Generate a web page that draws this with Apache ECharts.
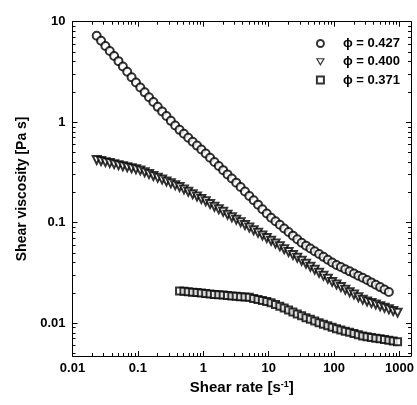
<!DOCTYPE html>
<html><head><meta charset="utf-8">
<script src="https://cdn.jsdelivr.net/npm/echarts@6/dist/echarts.min.js"></script>
<style>html,body{margin:0;padding:0;background:#fff}#c{width:417px;height:405px}</style>
</head><body><div id="c"></div>
<script>
// Shear rate values [1/s]
const shearRate = [0.02344,0.02734,0.03186,0.03715,0.04331,0.05050,0.05888,0.06866,0.08004,0.09333,
  0.1088,0.1269,0.1479,0.1724,0.2010,0.2344,0.2733,0.3187,0.3715,0.4332,
  0.5050,0.5888,0.6866,0.8005,0.9333,1.088,1.269,1.479,1.724,2.011,
  2.344,2.733,3.187,3.715,4.332,5.050,5.888,6.866,8.005,9.333,
  10.88,12.69,14.79,17.24,20.11,23.44,27.33,31.87,37.15,43.32,
  50.50,58.88,68.66,80.05,93.33,108.8,126.9,147.9,172.4,201.1,
  234.4,273.3,318.7,371.5,433.2,505.0,588.8,686.6,800.5,933.3];
// phi = 0.427 (circles), starts at shearRate[0]
const visc427 = [7.24,6.45,5.74,5.11,4.55,4.05,3.58,3.17,2.80,2.48,
  2.21,1.98,1.77,1.59,1.42,1.28,1.15,1.03,0.925,0.838,
  0.766,0.700,0.639,0.584,0.534,0.487,0.443,0.402,0.366,0.333,
  0.302,0.275,0.250,0.226,0.204,0.184,0.167,0.151,0.136,0.123,
  0.112,0.103,0.0951,0.0875,0.0806,0.0742,0.0683,0.0629,0.0590,0.0553,
  0.0518,0.0486,0.0456,0.0427,0.0400,0.0379,0.0361,0.0343,0.0327,0.0311,
  0.0296,0.0282,0.0268,0.0254,0.0241,0.0228,0.0216,0.0204];
// phi = 0.400 (triangles), starts at shearRate[0]
const visc400 = [0.420,0.410,0.400,0.391,0.382,0.373,0.364,0.356,0.348,0.340,
  0.331,0.317,0.304,0.291,0.279,0.268,0.257,0.246,0.236,0.226,
  0.214,0.203,0.192,0.182,0.172,0.163,0.153,0.144,0.136,0.128,
  0.120,0.113,0.107,0.101,0.0947,0.0892,0.0840,0.0791,0.0746,0.0702,
  0.0660,0.0619,0.0580,0.0543,0.0509,0.0477,0.0447,0.0417,0.0389,0.0363,
  0.0339,0.0317,0.0295,0.0276,0.0257,0.0242,0.0228,0.0215,0.0203,0.0192,
  0.0181,0.0171,0.0164,0.0158,0.0153,0.0147,0.0142,0.0137,0.0132,0.0127];
// phi = 0.371 (squares), starts at shearRate[19]
const visc371Start = 19;
const visc371 = [0.0209,0.0207,0.0205,0.0203,0.0201,0.0199,0.0197,0.0195,0.0193,0.0191,
  0.0190,0.0188,0.0186,0.0185,0.0183,0.0182,0.0181,0.0176,0.0172,0.0168,
  0.0164,0.0159,0.0153,0.0147,0.0141,0.0135,0.0129,0.0123,0.0118,0.0113,
  0.0109,0.0105,0.0101,0.00973,0.00939,0.00906,0.00878,0.00854,0.00831,0.00808,
  0.00786,0.00764,0.00743,0.00731,0.00719,0.00708,0.00697,0.00686,0.00675,0.00664,
  0.00653];
const seriesNames = ['\u03D5 = 0.427','\u03D5 = 0.400','\u03D5 = 0.371'];
const xMajorTicks = [0.01,0.1,1,10,100,1000];
const xMinorTicks = [0.02,0.03,0.04,0.05,0.06,0.07,0.08,0.09,0.2,0.3,0.4,0.5,0.6,0.7,0.8,0.9,
  2,3,4,5,6,7,8,9,20,30,40,50,60,70,80,90,200,300,400,500,600,700,800,900];
const yMajorTicks = [0.01,0.1,1,10];
const yMinorTicks = [0.005,0.006,0.007,0.008,0.009,0.02,0.03,0.04,0.05,0.06,0.07,0.08,0.09,
  0.2,0.3,0.4,0.5,0.6,0.7,0.8,0.9,2,3,4,5,6,7,8,9];
const xTitle = 'Shear rate [s{sup|-1}]';
const yTitle = 'Shear viscosity [Pa s]';

const FONT = '"Liberation Sans", Arial, sans-serif';
const X_MIN = 0.01, X_MAX = 1500, Y_MIN = 0.0047, Y_MAX = 10;
const DOWN_TRIANGLE = 'path://M0,0L10,0L5,8.66Z';
function fmt(v){ const e = Math.round(Math.log10(v)); return e < 0 ? Math.pow(10,e).toFixed(-e) : String(Math.round(Math.pow(10,e))); }

function mkX(pos, major, labels, extra){
  return Object.assign({
    type:'log', logBase:10, min:X_MIN, max:X_MAX, position:pos,
    axisLine:{show:major, lineStyle:{color:'#000', width:1}},
    axisTick:{show:true, inside:true, length: major?5:3, customValues: major?xMajorTicks:xMinorTicks, lineStyle:{color:'#000', width:1}},
    axisLabel:{show:labels, customValues:xMajorTicks, formatter:fmt, color:'#000', fontFamily:FONT, fontWeight:'bold', fontSize:13, margin:6},
    splitLine:{show:false}, minorTick:{show:false}
  }, extra||{});
}
function mkY(pos, major, labels, extra){
  return Object.assign({
    type:'log', logBase:10, min:Y_MIN, max:Y_MAX, position:pos,
    axisLine:{show:major, lineStyle:{color:'#000', width:1}},
    axisTick:{show:true, inside:true, length: major?5:3, customValues: major?yMajorTicks:yMinorTicks, lineStyle:{color:'#000', width:1}},
    axisLabel:{show:labels, customValues:yMajorTicks, formatter:fmt, color:'#000', fontFamily:FONT, fontWeight:'bold', fontSize:13, margin:7},
    splitLine:{show:false}, minorTick:{show:false}
  }, extra||{});
}

const chart = echarts.init(document.getElementById('c'), null, {renderer:'canvas'});
chart.setOption({
  backgroundColor:'#fff',
  animation:false,
  grid:{left:72.5, right:2, top:21.7, bottom:49},
  legend:{
    orient:'vertical', right:17, top:36, align:'left', padding:0,
    itemWidth:7, itemHeight:7, itemGap:3.3,
    data:[
      {name:seriesNames[0]},
      {name:seriesNames[1], icon:DOWN_TRIANGLE, itemStyle:{color:'#fff', borderColor:'#000', borderWidth:1.2}},
      {name:seriesNames[2]}
    ],
    textStyle:{fontFamily:FONT, fontWeight:'bold', fontSize:13, lineHeight:15, color:'#000', padding:[0,0,0,14]}
  },
  xAxis:[
    mkX('bottom', true, true, {
      name:xTitle, nameLocation:'middle', nameGap:23,
      nameTextStyle:{fontFamily:FONT, fontWeight:'bold', fontSize:15, color:'#000',
        rich:{sup:{fontFamily:FONT, fontWeight:'bold', fontSize:9, color:'#000', verticalAlign:'top', padding:[0,0,6,0]}}}
    }),
    mkX('top', true, false),
    mkX('bottom', false, false),
    mkX('top', false, false)
  ],
  yAxis:[
    mkY('left', true, true, {
      name:yTitle, nameLocation:'middle', nameGap:30,
      nameTextStyle:{fontFamily:FONT, fontWeight:'bold', fontSize:14, color:'#000'}
    }),
    mkY('right', true, false),
    mkY('left', false, false),
    mkY('right', false, false)
  ],
  series:[
    {name:seriesNames[0], type:'scatter', symbol:'emptyCircle', symbolSize:8,
     itemStyle:{color:'#000', borderWidth:0.9},
     data: visc427.map((v,i)=>[shearRate[i], v])},
    {name:seriesNames[1], type:'scatter', symbol:'emptyTriangle', symbolRotate:180, symbolSize:8,
     itemStyle:{color:'#000', borderWidth:1.5},
     data: visc400.map((v,i)=>[shearRate[i], v])},
    {name:seriesNames[2], type:'scatter', symbol:'emptyRect', symbolSize:7,
     itemStyle:{color:'#000', borderWidth:1},
     data: visc371.map((v,i)=>[shearRate[i+visc371Start], v])}
  ]
});
</script></body></html>
